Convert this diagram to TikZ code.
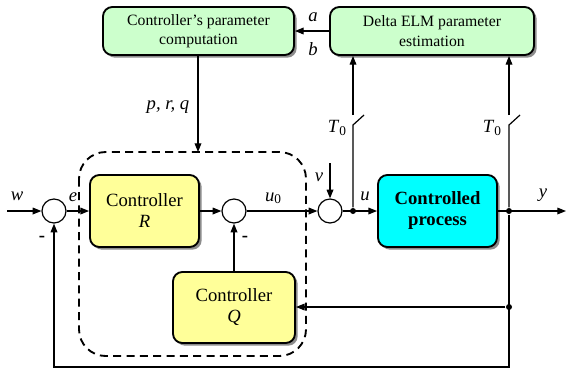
\documentclass[tikz,border=0pt]{standalone}
\usepackage{fontspec}
\IfFontExistsTF{LiberationSerif-Regular.ttf}
  {\setmainfont{LiberationSerif-Regular.ttf}[ItalicFont=LiberationSerif-Italic.ttf,
     BoldFont=LiberationSerif-Bold.ttf,BoldItalicFont=LiberationSerif-BoldItalic.ttf]}
  {\setmainfont{Liberation Serif}}
\usetikzlibrary{arrows.meta,shadows}
\definecolor{boxgreen}{HTML}{CCFFCC}
\definecolor{boxyellow}{HTML}{FFFF99}
\definecolor{boxcyan}{HTML}{00FFFF}
\begin{document}
\begin{tikzpicture}[x=0.75pt,y=-0.75pt,line width=0.9pt,
  >={Triangle[length=6.5pt,width=5pt]},
  block/.style={draw,line width=1.4pt,rounded corners=7pt,inner sep=0pt,align=center,
    drop shadow={shadow xshift=2pt,shadow yshift=-2pt,fill=black!45,opacity=1}},
  sumnode/.style={draw,circle,fill=white,minimum size=18pt,inner sep=0pt},
  dotnode/.style={circle,fill=black,minimum size=4.5pt,inner sep=0pt},
  lbl/.style={font=\fontsize{14}{16}\selectfont\itshape}]

\useasboundingbox (0,0) rectangle (566,369);

% Top blocks
\node[block,fill=boxgreen,minimum width=143.25pt,minimum height=36pt,
  font=\fontsize{11.8}{14.5}\selectfont] (cpc) at (198.5,31) {Controller's parameter\\computation};
\node[block,fill=boxgreen,minimum width=153pt,minimum height=36pt,
  font=\fontsize{11.8}{14.5}\selectfont] (elm) at (432,31) {Delta ELM parameter\\estimation};

% Controllers and process
\node[block,fill=boxyellow,minimum width=81.75pt,minimum height=54pt,
  font=\fontsize{14}{15.75}\selectfont] (ctrlR) at (144.5,211) {Controller\\\textit{R}};
\node[block,fill=boxyellow,minimum width=91.5pt,minimum height=53.25pt,
  font=\fontsize{14}{15.75}\selectfont] (ctrlQ) at (234,307.5) {Controller\\\textit{Q}};
\node[block,fill=boxcyan,minimum width=89.25pt,minimum height=54pt,
  font=\fontsize{14}{15.75}\selectfont\bfseries] (proc) at (437.5,211) {Controlled\\process};

% Dashed frame
\draw[line width=1.4pt,dash pattern=on 6pt off 4pt,rounded corners=20pt] (79,152) rectangle (306,356);

% Summing points and branch dots
\node[sumnode] (s1) at (54,211) {};
\node[sumnode] (s2) at (234,211) {};
\node[sumnode] (s3) at (330,211) {};
\node[dotnode] (du) at (353,211) {};
\node[dotnode] (dy) at (509,211) {};
\node[dotnode] (dq) at (509,307) {};

\coordinate (win) at (7,211);
\coordinate (yout) at (566,211);
\coordinate (vin) at (330,163);
\coordinate (dtop) at (198,152);
\coordinate (fbc) at (509,367);
\coordinate (swl) at (353,125);
\coordinate (swlt) at (364,115);
\coordinate (swlu) at (353,115);
\coordinate (swr) at (509,125);
\coordinate (swrt) at (520,115);
\coordinate (swru) at (509,115);

% Main loop
\draw[->] (win) -- (s1);
\draw[->] (s1) -- (ctrlR);
\draw[->] (ctrlR) -- (s2);
\draw[->] (s2) -- (s3);
\draw[->] (ctrlQ) -- (s2);
\draw[->] (vin) -- (s3);
\draw[->] (s3) -- (proc);
\draw[->] (proc) -- (yout);
\draw[->] (dq) -- (ctrlQ.east |- dq);
\draw[->] (dy) -- (fbc) -| (s1);

% Sampling switches
\draw (du) -- (swl) -- (swlt);
\draw[->] (swlu) -- (elm.south -| swlu);
\draw (dy) -- (swr) -- (swrt);
\draw[->] (swru) -- (elm.south -| swru);

% Parameter paths
\draw[->] (elm) -- (cpc);
\draw[->] (cpc.south -| dtop) -- (dtop);

% Labels
\node[lbl] (lw) at (17,196) {w};
\node[lbl] (le) at (73,197) {e};
\node[lbl] (lu0) at (273,198) {u\textup{\fontsize{10}{10}\selectfont\raisebox{-0.35ex}{0}}};
\node[lbl] (lv) at (319,177) {v};
\node[lbl] (lu) at (365,196) {u};
\node[lbl] (ly) at (543,195) {y};
\node[lbl] (la) at (313,17) {a};
\node[lbl] (lb) at (313,49) {b};
\node[lbl] (lprq) at (168,107) {p, r, q};
\node[lbl] (lt1) at (337,128) {T\textup{\fontsize{10}{10}\selectfont\raisebox{-0.35ex}{0}}};
\node[lbl] (lt2) at (492,128) {T\textup{\fontsize{10}{10}\selectfont\raisebox{-0.35ex}{0}}};
\node[font=\fontsize{14}{16}\selectfont\bfseries] (m1) at (42,239) {-};
\node[font=\fontsize{14}{16}\selectfont\bfseries] (m2) at (245,239) {-};

\end{tikzpicture}
\end{document}
